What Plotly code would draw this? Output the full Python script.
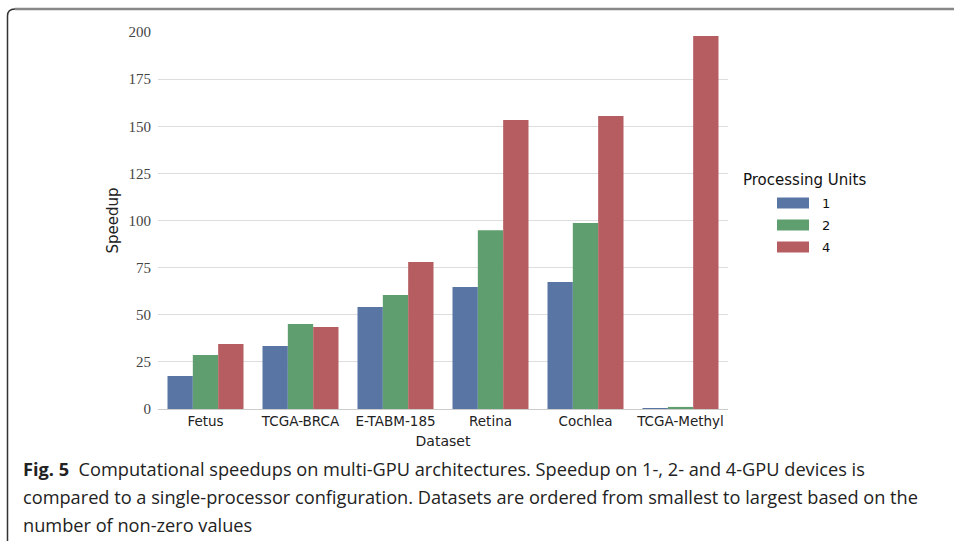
import plotly.graph_objects as go

# Speedup of each dataset on 1, 2 and 4 GPUs relative to a single processor
datasets = ["Fetus", "TCGA-BRCA", "E-TABM-185", "Retina", "Cochlea", "TCGA-Methyl"]
units = ["1", "2", "4"]
speedup_1gpu = [17.5, 33.4, 54.1, 64.7, 67.4, 0.5]
speedup_2gpu = [28.6, 45.1, 60.5, 94.8, 98.7, 1.1]
speedup_4gpu = [34.5, 43.5, 78.0, 153.3, 155.4, 197.9]
y_ticks = [0, 25, 50, 75, 100, 125, 150, 175, 200]
colors = ["#5975a4", "#5f9e6e", "#b55d60"]

caption_lines = [
    "<b>Fig. 5</b>  Computational speedups on multi-GPU architectures. Speedup on 1-, 2- and 4-GPU devices is",
    "compared to a single-processor configuration. Datasets are ordered from smallest to largest based on the",
    "number of non-zero values",
]

W, H = 954, 541
L, R, T, B = 158, 728, 32, 409  # plot area in pixels


def px(x):
    return (x - L) / (R - L)


def py(y):
    return (B - y) / (B - T)


fig = go.Figure()
for name, vals, col in zip(units, [speedup_1gpu, speedup_2gpu, speedup_4gpu], colors):
    fig.add_trace(go.Bar(x=datasets, y=vals, name=name, marker=dict(color=col, line=dict(width=0)),
                         showlegend=False))

fig.update_layout(
    width=W, height=H,
    margin=dict(l=L, r=W - R, t=T, b=H - B),
    paper_bgcolor="white", plot_bgcolor="white",
    barmode="group", bargap=0.2, bargroupgap=0,
    xaxis=dict(
        range=[-0.5, 5.5], showgrid=False, showline=True, linecolor="#cccccc", linewidth=1,
        ticks="", tickfont=dict(family="DejaVu Sans", size=13.5, color="#222"),
        title=dict(text="Dataset", font=dict(family="DejaVu Sans", size=14, color="#222"), standoff=7),
    ),
    yaxis=dict(
        range=[0, 200], tickvals=y_ticks, showgrid=True, gridcolor="#dddddd", gridwidth=1,
        zeroline=False, ticks="", ticklabelstandoff=6,
        tickfont=dict(family="Liberation Serif", size=15, color="#444"),
        title=dict(text="Speedup", font=dict(family="DejaVu Sans", size=15, color="#222"), standoff=6),
    ),
    font=dict(family="DejaVu Sans"),
)

shapes = []
annotations = []

# legend drawn as swatches with labels
annotations.append(dict(x=px(741), y=py(180), xref="paper", yref="paper", text="Processing Units",
                        showarrow=False, xanchor="left", yanchor="middle",
                        font=dict(family="DejaVu Sans", size=15, color="#111")))
for i, (name, col) in enumerate(zip(units, colors)):
    yc = 203 + 22 * i
    shapes.append(dict(type="rect", xref="paper", yref="paper", x0=px(777), x1=px(809),
                       y0=py(yc - 5.5), y1=py(yc + 5.5), fillcolor=col, line=dict(width=0)))
    annotations.append(dict(x=px(820), y=py(yc), xref="paper", yref="paper", text=name,
                            showarrow=False, xanchor="left", yanchor="middle",
                            font=dict(family="DejaVu Sans", size=13, color="#111")))

# caption
for i, line in enumerate(caption_lines):
    annotations.append(dict(x=px(21), y=py(469 + 28 * i), xref="paper", yref="paper", text=line,
                            showarrow=False, xanchor="left", yanchor="middle",
                            font=dict(family="Open Sans", size=18.2, color="#222")))

# figure frame: gray top rule and dark left rule with rounded corner
frame_path = "M {x0},{yb} L {x0},{yc} Q {x0},{yt} {xc},{yt}".format(
    x0=px(7.5), yb=py(545), yc=py(16), yt=py(9), xc=px(15))
shapes.append(dict(type="path", xref="paper", yref="paper", path=frame_path,
                   line=dict(color="#333", width=1.5)))
shapes.append(dict(type="line", xref="paper", yref="paper", x0=px(15), x1=px(960),
                   y0=py(9), y1=py(9), line=dict(color="#888", width=2.5)))

fig.update_layout(shapes=shapes, annotations=annotations)
fig.write_html("out.html")
